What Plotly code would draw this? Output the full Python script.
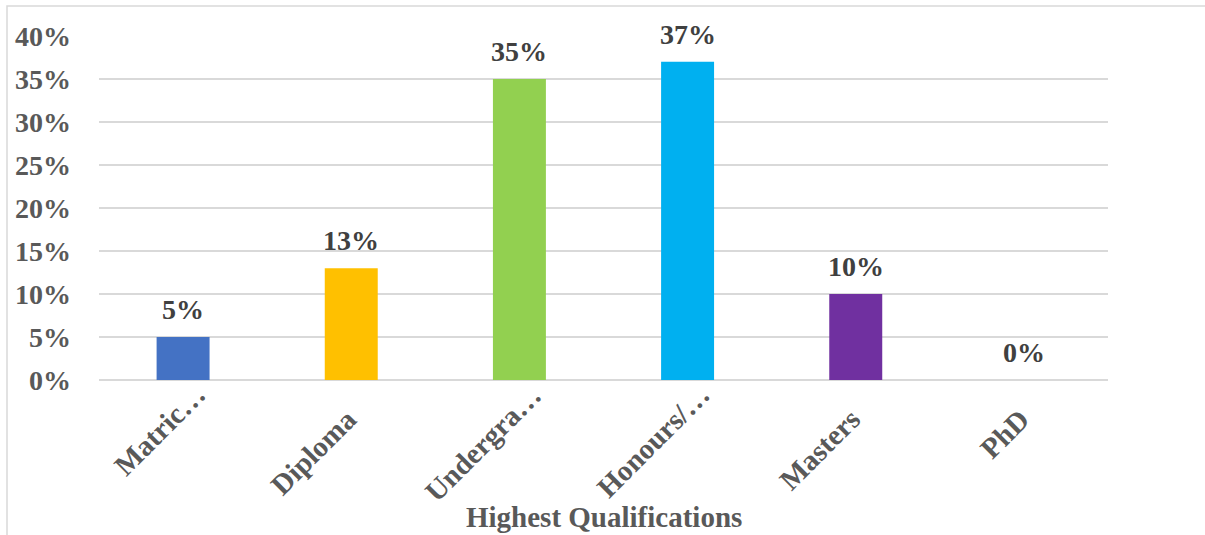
import plotly.graph_objects as go

categories = ["Matric…", "Diploma", "Undergra…", "Honours/…", "Masters", "PhD"]
values = [5, 13, 35, 37, 10, 0]
colors = ["#4472C4", "#FFC000", "#92D050", "#00B0F0", "#7030A0", "#A5A5A5"]
y_ticks = [0, 5, 10, 15, 20, 25, 30, 35, 40]
y_tick_labels = [f"{v}%" for v in y_ticks]

FONT = "Liberation Serif"
FS = 28

fig = go.Figure(go.Bar(
    x=categories,
    y=values,
    marker=dict(color=colors, line=dict(width=0)),
    width=0.315,
    cliponaxis=False,
))

L, R, T, B = 99, 97, 36, 155
W, H = 1205, 535
pw, ph = W - L - R, H - T - B

# data labels
annotations = [dict(
    x=c, y=v, xref="x", yref="y", text=f"<b>{v}%</b>",
    showarrow=False, xanchor="center", yanchor="bottom", yshift=10,
    font=dict(family=FONT, size=FS, color="#404040"),
) for c, v in zip(categories, values)]

# rotated category labels (drawn as annotations to mimic Excel placement)
for c in categories:
    truncated = c.endswith("…")
    xs = 31 if truncated else 14
    ytop = 376 if truncated else 400
    annotations.append(dict(
        x=c, xref="x", y=(380 - ytop) / ph, yref="paper",
        text=f"<b>{c}</b>", textangle=-45, showarrow=False,
        xanchor="right", yanchor="top", xshift=xs,
        font=dict(family=FONT, size=29, color="#595959"),
    ))

annotations.append(dict(
    text="<b>Highest Qualifications</b>",
    x=0.5, xref="paper", y=(380 - 535) / ph, yref="paper",
    xanchor="center", yanchor="bottom", showarrow=False,
    font=dict(family=FONT, size=29, color="#595959"),
))

fig.update_layout(
    width=W, height=H,
    margin=dict(l=L, r=R, t=T, b=B, autoexpand=False),
    paper_bgcolor="white", plot_bgcolor="white",
    showlegend=False,
    font=dict(family=FONT, color="#595959"),
    xaxis=dict(
        automargin=False, showticklabels=False,
        showgrid=False, showline=False, ticks="",
    ),
    yaxis=dict(
        range=[0, 40], automargin=False,
        tickvals=y_ticks, ticktext=y_tick_labels,
        tickfont=dict(family=FONT, size=FS, color="#595959", weight="bold"),
        showgrid=True, gridcolor="#D9D9D9", gridwidth=1.5,
        zeroline=True, zerolinecolor="#D9D9D9", zerolinewidth=1.5,
        showline=False, ticks="", ticklabelstandoff=27,
    ),
    annotations=annotations,
    shapes=[dict(
        type="rect", xref="paper", yref="paper",
        x0=(7 - L) / pw, x1=(1215 - L) / pw,
        y0=(380 - 545) / ph, y1=(380 - 6) / ph,
        line=dict(color="#D9D9D9", width=1.5), fillcolor="rgba(0,0,0,0)",
        layer="below",
    )],
)

fig.write_html("out.html")
